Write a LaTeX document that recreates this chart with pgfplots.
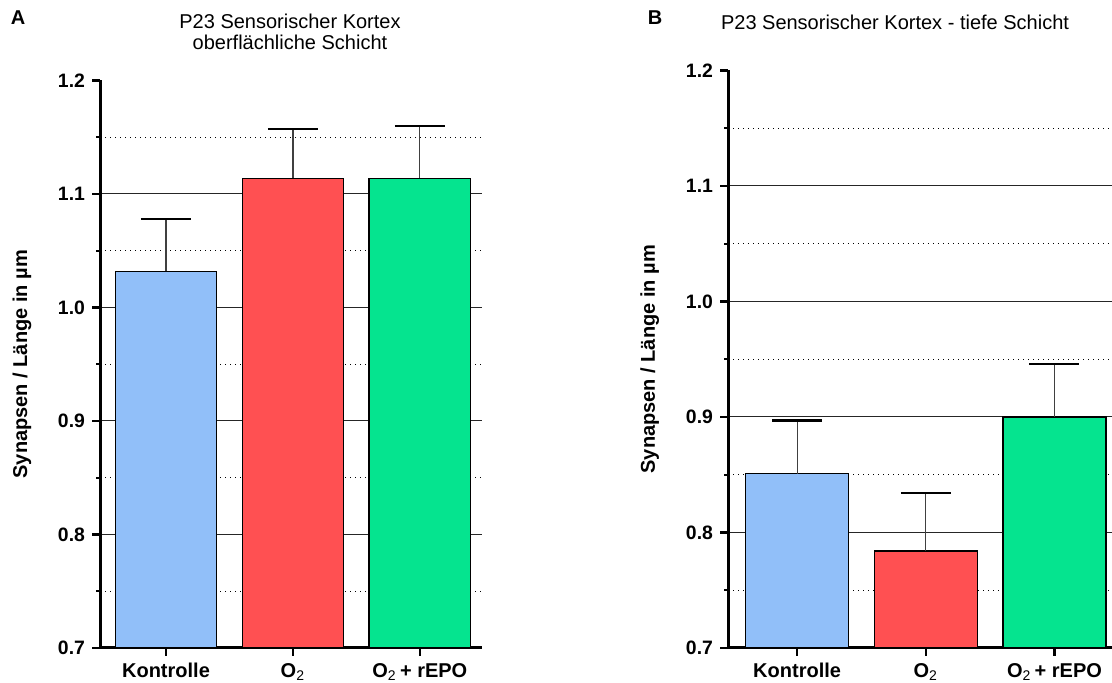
\documentclass[border=0pt]{standalone}
\usepackage{fontspec}
\setmainfont{Liberation Sans}
\usepackage{pgfplots}
\pgfplotsset{compat=1.18}

\definecolor{kontrolle}{RGB}{145,191,249}
\definecolor{otwo}{RGB}{255,80,82}
\definecolor{repo}{RGB}{5,228,143}

\pgfplotsset{
  synbars/.style={
    set layers,
    scale only axis,
    axis lines=left,
    axis line style={-, line width=1.5pt, /pgfplots/on layer=axis foreground},
    ymin=0.7, ymax=1.2,
    ytick={0.7,0.8,0.9,1.0,1.1,1.2},
    minor ytick={0.75,0.85,0.95,1.05,1.15},
    yminorgrids=true,
    minor grid style={black, line width=0.6pt, dash pattern=on 0.6pt off 1.9pt},
    extra y ticks={0.8,0.9,1.0,1.1},
    extra y tick labels={},
    extra y tick style={grid=major, major tick length=0pt},
    major grid style={black!85, line width=0.5pt},
    tick align=outside,
    major tick length=4pt,
    minor tick length=2pt,
    tick style={black, line width=1.2pt},
    xtick={0,1,2},
    xticklabels={Kontrolle, O\textsubscript{\mdseries 2}, O\textsubscript{\mdseries 2}\,+ rEPO},
    xticklabel style={font=\fontsize{10}{12}\selectfont\bfseries},
    yticklabel style={font=\fontsize{9.7}{11}\selectfont\bfseries,
      /pgf/number format/fixed, /pgf/number format/fixed zerofill,
      /pgf/number format/precision=1, /pgf/number format/assume math mode=true},
    ylabel={Synapsen / Länge in µm},
    every axis y label/.style={at={(axis description cs:-0.204,0.5)}, rotate=90, anchor=center, font=\fontsize{10}{12}\selectfont\bfseries},
    ybar, bar width=0.8,
  },
  synbar/.style={bar shift=0pt, draw=black, line width=0.6pt, fill=#1,
    /pgfplots/error bars/y dir=plus,
    /pgfplots/error bars/y explicit,
    /pgfplots/error bars/error bar style={line width=0.6pt, black!75},
    /pgfplots/error bars/error mark options={rotate=90, mark size=12.5pt, line width=1.1pt, black}},
}

\begin{document}
\begin{tikzpicture}
% Panel A: superficial layer
\begin{axis}[synbars, at={(50pt,17.5pt)}, anchor=south west,
  width=191pt, height=283.75pt, xmin=-0.52, xmax=2.49]
  \addplot[synbar=kontrolle] coordinates {(0,1.032) +- (0,0.046)};
  \addplot[synbar=otwo]      coordinates {(1,1.114) +- (0,0.043)};
  \addplot[synbar=repo]      coordinates {(2,1.114) +- (0,0.046)};
\end{axis}

% Panel B: deep layer
\begin{axis}[synbars, at={(364pt,17.5pt)}, anchor=south west,
  width=192pt, height=288.75pt, xmin=-0.537, xmax=2.447]
  \addplot[synbar=kontrolle] coordinates {(0,0.851) +- (0,0.046)};
  \addplot[synbar=otwo]      coordinates {(1,0.784) +- (0,0.050)};
  \addplot[synbar=repo]      coordinates {(2,0.900) +- (0,0.046)};
\end{axis}

\node[font=\fontsize{10}{12}\selectfont\bfseries] at (9pt,332.5pt) {A};
\node[font=\fontsize{10}{12}\selectfont\bfseries] at (327.5pt,332.5pt) {B};
\node[font=\fontsize{10}{10.5}\selectfont, align=center] at (145pt,325.5pt)
  {P23 Sensorischer Kortex\\oberflächliche Schicht};
\node[font=\fontsize{10}{12}\selectfont] at (447.5pt,330.5pt)
  {P23 Sensorischer Kortex - tiefe Schicht};

% fixed page frame
\pgfresetboundingbox
\path (0,0) rectangle (556pt,341.5pt);
\end{tikzpicture}
\end{document}
